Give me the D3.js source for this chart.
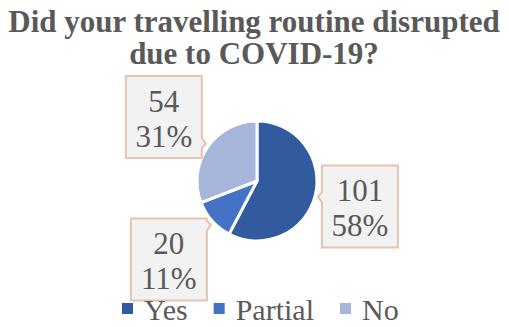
<!DOCTYPE html>
<html>
<head>
<meta charset="utf-8">
<script src="https://cdn.jsdelivr.net/npm/d3@7"></script>
<style>
  html, body { margin: 0; padding: 0; background: #fff; }
  svg { display: block; }
</style>
</head>
<body>
<svg id="chart" width="509" height="327"></svg>
<script>
// Survey answers
const categories = ["Yes", "Partial", "No"];
const counts = [101, 20, 54];
const percentLabels = ["58%", "11%", "31%"];
const colors = ["#325b9f", "#4472c4", "#a7b5db"];
const titleLines = ["Did your travelling routine disrupted", "due to COVID-19?"];

// Distance of each data callout from the pie centre, along the slice's middle angle
const calloutDistance = [106, 118, 113];

const W = 509, H = 327;
const cx = 257, cy = 181, radius = 60;
const boxW = 76, boxH = 82;
const textColor = "#595959";
const serif = "'Liberation Serif', 'Times New Roman', serif";

const svg = d3.select("#chart");

// Title
svg.append("text")
  .attr("x", 254).attr("y", 32)
  .attr("text-anchor", "middle")
  .attr("font-family", serif).attr("font-weight", "bold")
  .attr("font-size", 31).attr("fill", textColor)
  .selectAll("tspan").data(titleLines).join("tspan")
  .attr("x", 254).attr("dy", (d, i) => i === 0 ? 0 : 32)
  .text(d => d);

const data = categories.map((c, i) => ({ cat: c, value: counts[i], pct: percentLabels[i], i }));

const pie = d3.pie().value(d => d.value).sort(null).startAngle(0).endAngle(2 * Math.PI);
const arcs = pie(data);
const arc = d3.arc().innerRadius(0).outerRadius(radius);

const g = svg.append("g").attr("transform", `translate(${cx},${cy})`);
g.selectAll("path.slice").data(arcs).join("path")
  .attr("class", "slice")
  .attr("d", arc)
  .attr("fill", d => colors[d.data.i])
  .attr("stroke", "#fff")
  .attr("stroke-width", 3)
  .attr("stroke-linejoin", "round");

// Callout box with a small wedge on the side facing the slice
function calloutPath(bx, by, tipX, tipY, facingLeft) {
  const x0 = bx - boxW / 2, x1 = bx + boxW / 2;
  const y0 = by - boxH / 2, y1 = by + boxH / 2;
  const edgeX = facingLeft ? x0 : x1;
  // where the line toward the slice crosses the box edge
  const t = (edgeX - bx) / (tipX - bx);
  let ey = by + t * (tipY - by);
  ey = Math.max(y0 + 6, Math.min(y1 - 6, ey));
  const half = 5, out = 4;
  const wx = facingLeft ? edgeX - out : edgeX + out;
  const wy = ey + (tipY - by) * 0.02;
  const p = d3.path();
  p.moveTo(x0, y0);
  p.lineTo(x1, y0);
  if (!facingLeft) {
    p.lineTo(x1, ey - half);
    p.lineTo(wx, wy);
    p.lineTo(x1, ey + half);
  }
  p.lineTo(x1, y1);
  p.lineTo(x0, y1);
  if (facingLeft) {
    p.lineTo(x0, ey + half);
    p.lineTo(wx, wy);
    p.lineTo(x0, ey - half);
  }
  p.closePath();
  return p.toString();
}

const labels = svg.append("g");
arcs.forEach(a => {
  const mid = (a.startAngle + a.endAngle) / 2;
  const dist = calloutDistance[a.data.i];
  const bx = cx + dist * Math.sin(mid);
  const by = cy - dist * Math.cos(mid);
  const tipX = cx + radius * Math.sin(mid);
  const tipY = cy - radius * Math.cos(mid);
  const facingLeft = bx > cx;
  labels.append("path")
    .attr("d", calloutPath(bx, by, tipX, tipY, facingLeft))
    .attr("fill", "#f2f2f2")
    .attr("stroke", "#e6c3ae")
    .attr("stroke-width", 2);
  const top = by - boxH / 2;
  [String(a.data.value), a.data.pct].forEach((s, k) => {
    labels.append("text")
      .attr("x", bx).attr("y", top + (k === 0 ? 36 : 71))
      .attr("text-anchor", "middle")
      .attr("font-family", serif).attr("font-size", 31)
      .attr("fill", textColor)
      .text(s);
  });
});

// Legend
const legend = svg.append("g");
let lx = 122;
data.forEach(d => {
  legend.append("rect")
    .attr("x", lx).attr("y", 303).attr("width", 11).attr("height", 11)
    .attr("fill", colors[d.i]);
  const t = legend.append("text")
    .attr("x", lx + 22).attr("y", 320)
    .attr("font-family", serif).attr("font-size", 30)
    .attr("fill", textColor)
    .text(d.cat);
  lx = lx + 22 + t.node().getComputedTextLength() + 26;
});
</script>
</body>
</html>
